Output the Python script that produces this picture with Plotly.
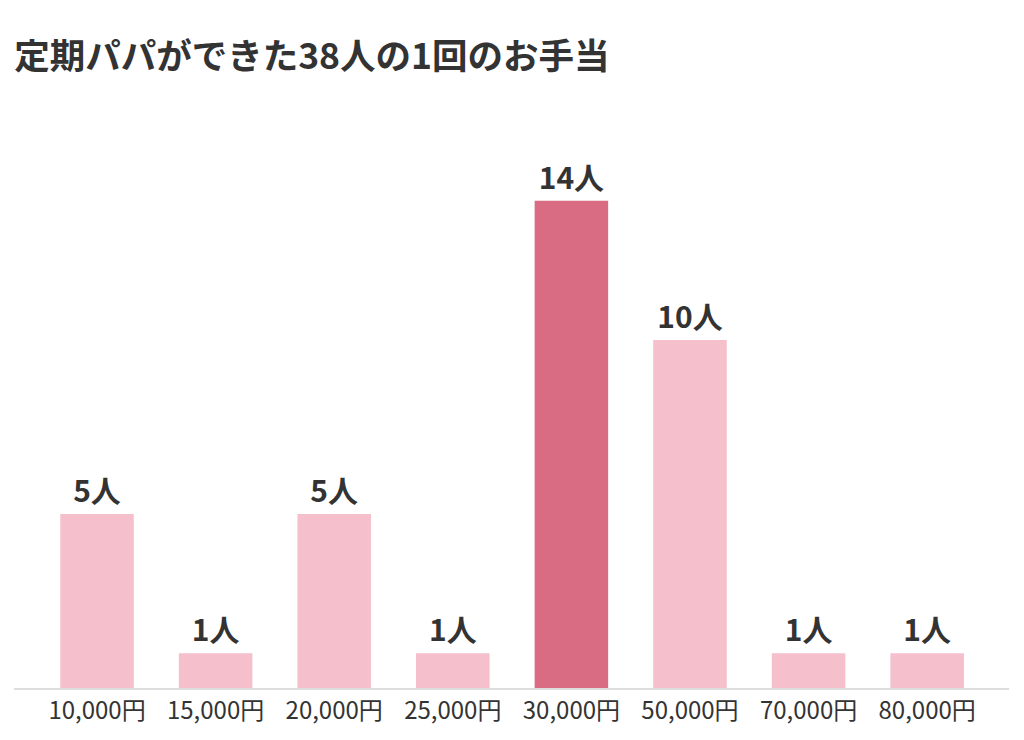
import plotly.graph_objects as go

# --- data ---
categories = ["10,000円", "15,000円", "20,000円", "25,000円",
              "30,000円", "50,000円", "70,000円", "80,000円"]
counts = [5, 1, 5, 1, 14, 10, 1, 1]
labels = [f"{c}人" for c in counts]

light_pink = "#F5BFCC"
dark_pink = "#D96B82"
colors = [dark_pink if c == max(counts) else light_pink for c in counts]

font_family = "Noto Sans CJK JP, Noto Sans, sans-serif"

fig = go.Figure(
    go.Bar(
        x=list(range(len(categories))),
        y=counts,
        text=labels,
        textposition="outside",
        cliponaxis=False,
        textfont=dict(size=30, color="#333333", family=font_family, weight="bold"),
        marker=dict(color=colors, line=dict(width=0)),
        hoverinfo="skip",
    )
)

# page body adds ~8px offset, so margins are shifted to compensate
fig.update_layout(
    width=1024,
    height=740,
    paper_bgcolor="white",
    plot_bgcolor="white",
    margin=dict(l=6, r=23, t=122, b=60),
    bargap=0.38,
    showlegend=False,
    font=dict(family=font_family, color="#333333"),
    title=dict(
        text="<b>定期パパができた38人の1回のお手当</b>",
        x=0.006, xanchor="left",
        y=0.934, yanchor="middle",
        font=dict(size=35.5, color="#333333", family=font_family),
    ),
    xaxis=dict(
        tickmode="array",
        tickvals=list(range(len(categories))),
        ticktext=categories,
        range=[-0.70, 7.69],
        showgrid=False,
        zeroline=False,
        showline=True,
        linecolor="#DDDDDD",
        linewidth=2,
        ticks="",
        tickfont=dict(size=24, color="#333333"),
    ),
    yaxis=dict(
        range=[0, 16.03],
        visible=False,
        showgrid=False,
        zeroline=False,
    ),
)

fig.write_html("out.html")
